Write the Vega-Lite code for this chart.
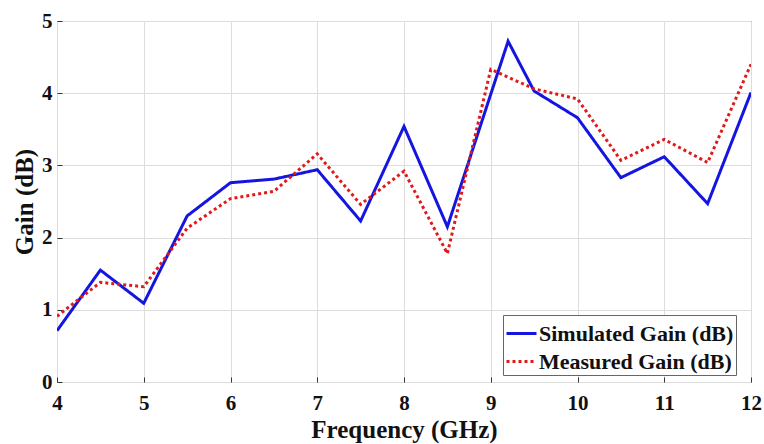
{
  "$schema": "https://vega.github.io/schema/vega-lite/v6.json",
  "width": 694,
  "height": 361,
  "autosize": {"type": "none"},
  "padding": {"left": 57, "top": 21, "right": 13, "bottom": 62},
  "background": "white",
  "config": {
    "view": {"stroke": "#333333", "strokeWidth": 1},
    "axis": {
      "labelFont": "Liberation Serif",
      "labelFontWeight": "bold",
      "labelFontSize": 21,
      "labelColor": "#111111",
      "titleFont": "Liberation Serif",
      "titleFontWeight": "bold",
      "titleFontSize": 25,
      "titleColor": "#111111",
      "gridColor": "#dddddd",
      "gridWidth": 1,
      "domain": false,
      "tickColor": "#333333",
      "tickSize": -5
    },
    "legend": {
      "labelFont": "Liberation Serif",
      "labelFontWeight": "bold",
      "labelFontSize": 22,
      "labelColor": "#111111",
      "labelLimit": 0
    }
  },
  "data": {
    "values": [
      {"f": 4, "gain": 0.71, "series": "Simulated Gain (dB)"},
      {"f": 4.5, "gain": 1.55, "series": "Simulated Gain (dB)"},
      {"f": 5, "gain": 1.09, "series": "Simulated Gain (dB)"},
      {"f": 5.5, "gain": 2.3, "series": "Simulated Gain (dB)"},
      {"f": 6, "gain": 2.76, "series": "Simulated Gain (dB)"},
      {"f": 6.5, "gain": 2.81, "series": "Simulated Gain (dB)"},
      {"f": 7, "gain": 2.94, "series": "Simulated Gain (dB)"},
      {"f": 7.5, "gain": 2.23, "series": "Simulated Gain (dB)"},
      {"f": 8, "gain": 3.54, "series": "Simulated Gain (dB)"},
      {"f": 8.5, "gain": 2.15, "series": "Simulated Gain (dB)"},
      {"f": 9.2, "gain": 4.72, "series": "Simulated Gain (dB)"},
      {"f": 9.5, "gain": 4.03, "series": "Simulated Gain (dB)"},
      {"f": 10, "gain": 3.66, "series": "Simulated Gain (dB)"},
      {"f": 10.5, "gain": 2.83, "series": "Simulated Gain (dB)"},
      {"f": 11, "gain": 3.12, "series": "Simulated Gain (dB)"},
      {"f": 11.5, "gain": 2.47, "series": "Simulated Gain (dB)"},
      {"f": 12, "gain": 4.01, "series": "Simulated Gain (dB)"},
      {"f": 4, "gain": 0.91, "series": "Measured Gain (dB)"},
      {"f": 4.5, "gain": 1.38, "series": "Measured Gain (dB)"},
      {"f": 5, "gain": 1.32, "series": "Measured Gain (dB)"},
      {"f": 5.5, "gain": 2.13, "series": "Measured Gain (dB)"},
      {"f": 6, "gain": 2.54, "series": "Measured Gain (dB)"},
      {"f": 6.5, "gain": 2.64, "series": "Measured Gain (dB)"},
      {"f": 7, "gain": 3.16, "series": "Measured Gain (dB)"},
      {"f": 7.5, "gain": 2.46, "series": "Measured Gain (dB)"},
      {"f": 8, "gain": 2.92, "series": "Measured Gain (dB)"},
      {"f": 8.5, "gain": 1.78, "series": "Measured Gain (dB)"},
      {"f": 9, "gain": 4.33, "series": "Measured Gain (dB)"},
      {"f": 9.5, "gain": 4.06, "series": "Measured Gain (dB)"},
      {"f": 10, "gain": 3.92, "series": "Measured Gain (dB)"},
      {"f": 10.5, "gain": 3.07, "series": "Measured Gain (dB)"},
      {"f": 11, "gain": 3.36, "series": "Measured Gain (dB)"},
      {"f": 11.5, "gain": 3.04, "series": "Measured Gain (dB)"},
      {"f": 12, "gain": 4.4, "series": "Measured Gain (dB)"}
    ]
  },
  "mark": {"type": "line", "strokeWidth": 3, "clip": true},
  "encoding": {
    "x": {
      "field": "f",
      "type": "quantitative",
      "title": "Frequency (GHz)",
      "scale": {"domain": [4, 12], "nice": false, "zero": false},
      "axis": {"values": [4, 5, 6, 7, 8, 9, 10, 11, 12], "labelPadding": 15, "titlePadding": 4, "labelFlush": false}
    },
    "y": {
      "field": "gain",
      "type": "quantitative",
      "title": "Gain (dB)",
      "scale": {"domain": [0, 5], "nice": false},
      "axis": {"values": [0, 1, 2, 3, 4, 5], "labelPadding": 10, "titlePadding": 4}
    },
    "color": {
      "field": "series",
      "type": "nominal",
      "scale": {"domain": ["Simulated Gain (dB)", "Measured Gain (dB)"], "range": ["#1515e0", "#e01a1a"]},
      "legend": {
        "title": null,
        "orient": "none",
        "legendX": 446,
        "legendY": 294,
        "symbolType": "stroke",
        "symbolSize": 900,
        "symbolStrokeWidth": 3,
        "rowPadding": 0,
        "padding": 2,
        "labelOffset": 1,
        "strokeColor": "#666666",
        "fillColor": "white"
      }
    },
    "strokeDash": {
      "field": "series",
      "type": "nominal",
      "scale": {"domain": ["Simulated Gain (dB)", "Measured Gain (dB)"], "range": [[1, 0], [3, 3]]},
      "legend": null
    }
  }
}
